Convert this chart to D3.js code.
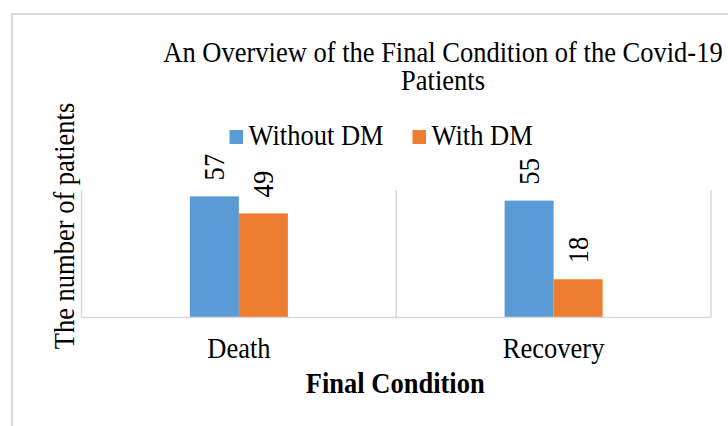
<!DOCTYPE html>
<html>
<head>
<meta charset="utf-8">
<script src="https://cdn.jsdelivr.net/npm/d3@7"></script>
<style>
  html, body { margin: 0; padding: 0; background: #fff; }
  svg { display: block; }
</style>
</head>
<body>
<script>
// ---- data ----
const categories = ["Death", "Recovery"];
const seriesNames = ["Without DM", "With DM"];
const withoutDM = [57, 55];
const withDM = [49, 18];
const titleLines = ["An Overview of the Final Condition of the Covid-19", "Patients"];
const xAxisTitle = "Final Condition";
const yAxisTitle = "The number of patients";
const yDomainMax = 60;

const colors = ["#5b9bd5", "#ed7d31"];
const seriesValues = [withoutDM, withDM];

const FONT = "'Liberation Serif', 'Times New Roman', serif";
const FS = 28.5;
const SX = 0.93; // narrow glyphs as in the reference

const W = 728, H = 426;
const svg = d3.select("body").append("svg").attr("width", W).attr("height", H)
  .attr("font-family", FONT);

// outer chart border (extends past the right/bottom edge)
svg.append("rect")
  .attr("x", 12).attr("y", 14).attr("width", W).attr("height", H)
  .attr("fill", "none").attr("stroke", "#d9d9d9").attr("stroke-width", 2);

const plot = { left: 81.5, right: 711, top: 190, bottom: 317.5 };

const x0 = d3.scaleBand().domain(categories).range([plot.left, plot.right]).paddingInner(0).paddingOuter(0);
const x1 = d3.scaleBand().domain(seriesNames).range([0, x0.bandwidth()]).paddingInner(0).paddingOuter(2.21);
const y = d3.scaleLinear().domain([0, yDomainMax]).range([plot.bottom, plot.top]);

function label(parent, x, yy, rot, txt, anchor, bold) {
  return parent.append("text")
    .attr("transform", `translate(${x},${yy}) rotate(${rot}) scale(${SX},1)`)
    .attr("text-anchor", anchor)
    .attr("font-family", FONT)
    .attr("font-size", FS)
    .attr("font-weight", bold ? "bold" : "normal")
    .attr("fill", "#000")
    .text(txt);
}

// vertical gridlines at category boundaries
const bounds = categories.map(c => x0(c)).concat([x0(categories[categories.length - 1]) + x0.bandwidth()]);
svg.append("g").selectAll("line").data(bounds).join("line")
  .attr("x1", d => d).attr("x2", d => d)
  .attr("y1", plot.top).attr("y2", plot.bottom)
  .attr("stroke", "#d9d9d9").attr("stroke-width", 1.5);

// bars
const rows = [];
categories.forEach((c, i) => {
  seriesNames.forEach((s, j) => rows.push({ cat: c, series: s, value: seriesValues[j][i], color: colors[j] }));
});
svg.append("g").selectAll("rect").data(rows).join("rect")
  .attr("x", d => x0(d.cat) + x1(d.series))
  .attr("y", d => y(d.value))
  .attr("width", x1.bandwidth())
  .attr("height", d => y(0) - y(d.value))
  .attr("fill", d => d.color);

// baseline (category axis line)
svg.append("line")
  .attr("x1", plot.left).attr("x2", plot.right)
  .attr("y1", plot.bottom).attr("y2", plot.bottom)
  .attr("stroke", "#d9d9d9").attr("stroke-width", 1.5);

// data labels (rotated)
const dl = svg.append("g");
rows.forEach(d => {
  label(dl, x0(d.cat) + x1(d.series) + x1.bandwidth() / 2 + 9.5, y(d.value) - 16, -90, String(d.value), "start", false);
});

// category axis labels via d3 axis
const xAxis = svg.append("g")
  .attr("transform", `translate(0,${plot.bottom})`)
  .call(d3.axisBottom(x0).tickSize(0).tickPadding(0));
xAxis.attr("font-family", FONT).attr("font-size", FS);
xAxis.select(".domain").remove();
xAxis.selectAll("text")
  .attr("font-family", FONT)
  .attr("font-size", FS)
  .attr("fill", "#000")
  .attr("dy", null)
  .attr("y", null)
  .attr("transform", `translate(0,${358 - plot.bottom}) scale(${SX},1)`);

// axis titles
label(svg, (plot.left + plot.right) / 2 - 1, 393, 0, xAxisTitle, "middle", true);
label(svg, 74, 226, -90, yAxisTitle, "middle", false);

// title
titleLines.forEach((t, i) => label(svg, 443, 61.5 + i * 28.5, 0, t, "middle", false));

// legend
const legendX = [229.5, 412.5];
seriesNames.forEach((s, i) => {
  svg.append("rect").attr("x", legendX[i]).attr("y", 130).attr("width", 13.5).attr("height", 14).attr("fill", colors[i]);
  label(svg, legendX[i] + 19, 145, 0, s, "start", false);
});
</script>
</body>
</html>
